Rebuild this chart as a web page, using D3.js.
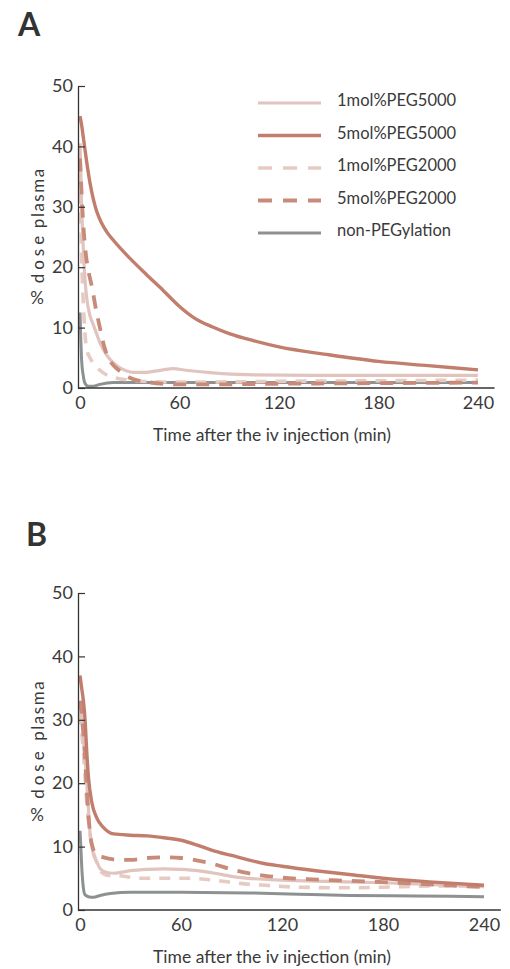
<!DOCTYPE html>
<html>
<head>
<meta charset="utf-8">
<script src="https://cdn.jsdelivr.net/npm/d3@7"></script>
<style>
  body { margin: 0; background: #fff; }
  svg { display: block; font-family: Lato, "Open Sans", sans-serif; }
</style>
</head>
<body>
<svg id="chart" width="510" height="969"></svg>
<script>
// series names, in legend order
const seriesNames = ["1mol%PEG5000", "5mol%PEG5000", "1mol%PEG2000", "5mol%PEG2000", "non-PEGylation"]
const xTicks = [0, 60, 120, 180, 240]
const yTicks = [0, 10, 20, 30, 40, 50]

// panel A : [time (min), % dose]
const a_1mol5000 = [[0,40.5],[1,30],[2,23],[3,18],[4,15],[6,12],[8,10.5],[10,9],[12,7.5],[16,5.5],[20,4.2],[25,3.2],[32,2.6],[40,2.6],[50,3],[56,3.2],[65,2.9],[80,2.5],[100,2.2],[140,2.1],[240,2.1]]
const a_5mol5000 = [[0,45],[1,43.5],[2,41.5],[3,39.5],[4,37.5],[6,34],[8,31.3],[10,29.3],[13,27.3],[16,25.9],[20,24.5],[30,21.5],[40,18.8],[50,16.2],[60,13.5],[70,11.4],[80,10.1],[90,9],[105,7.8],[120,6.8],[150,5.5],[180,4.4],[210,3.7],[240,3]]
const a_1mol2000 = [[0,39],[0.5,30],[1,22],[2,14],[3,9],[4,6.5],[6,5],[9,3.8],[14,2.5],[20,1.8],[30,1.3],[50,1],[80,1],[120,1.1],[180,1.2],[240,1.3]]
const a_5mol2000 = [[0,38],[1,32],[2,27],[3,23.5],[5,19.5],[7,17],[10,12.5],[12,10],[14,7.5],[17,5],[20,3.8],[25,2.6],[30,1.7],[40,1],[60,0.6],[80,0.6],[120,0.7],[180,0.8],[240,0.9]]
const a_nonPEG = [[0,12.5],[0.5,8],[1,4.5],[2,2],[3,0.8],[5,0.3],[8,0.3],[12,0.6],[20,0.9],[40,0.9],[60,0.9],[120,0.9],[180,0.9],[240,0.9]]

// panel B
const b_1mol5000 = [[0,33],[1,30],[2,27],[3,24],[4,20],[5,16],[6,12],[7,10],[8,8.8],[10,7.6],[12,6.5],[15,6],[20,5.8],[30,6.2],[40,6.4],[50,6.5],[60,6.4],[70,6.2],[80,5.8],[90,5.3],[100,5],[120,4.7],[150,4.5],[180,4.3],[210,4],[240,3.7]]
const b_5mol5000 = [[0,37],[1,35],[2,33],[3,30],[4,25],[5,21],[7,17],[10,14.5],[14,13],[20,12],[30,11.8],[40,11.7],[50,11.4],[60,11],[70,10.2],[80,9.3],[90,8.6],[100,7.9],[110,7.3],[120,6.9],[140,6.2],[160,5.6],[180,5],[210,4.4],[240,3.9]]
const b_1mol2000 = [[0,31],[1,28],[2,25],[3,21],[4,17],[6,12],[8,9],[10,7.5],[12,6.2],[16,5.5],[24,5.4],[35,5],[50,5],[65,5],[80,4.7],[95,4.2],[110,3.9],[130,3.6],[160,3.5],[180,3.6],[210,3.8],[240,3.8]]
const b_5mol2000 = [[0,33],[1,31],[2,28],[3,24],[4,19],[5,15],[6,12],[8,9.5],[10,8.7],[14,8.3],[20,8],[30,7.9],[40,8.2],[50,8.3],[60,8.2],[70,7.8],[80,7.2],[90,6.4],[100,5.8],[110,5.4],[120,5.1],[150,4.7],[180,4.4],[210,4],[240,3.6]]
const b_nonPEG = [[0,12.5],[0.5,10],[1,7],[2,3.5],[3,2.4],[5,2.1],[8,2],[12,2.3],[18,2.6],[30,2.8],[60,2.8],[100,2.7],[130,2.5],[160,2.3],[200,2.2],[240,2.1]]

// line styles per series
const styles = {
  "1mol%PEG5000": {color: "#e2c4bf", width: 3.2, dash: null},
  "5mol%PEG5000": {color: "#c27e6c", width: 3.4, dash: null},
  "1mol%PEG2000": {color: "#e6cbc3", width: 3.6, dash: "11,9"},
  "5mol%PEG2000": {color: "#c98b79", width: 3.8, dash: "13,10"},
  "non-PEGylation": {color: "#8d9191", width: 3, dash: null}
}
const drawOrder = ["non-PEGylation", "1mol%PEG2000", "1mol%PEG5000", "5mol%PEG2000", "5mol%PEG5000"]

const svg = d3.select("#chart")
const textColor = "#3a3a3a"

function drawPanel(letter, data, box, withLegend) {
  const x = d3.scaleLinear().domain([0, 240]).range([box.x0, box.x1])
  const y = d3.scaleLinear().domain([0, 50]).range([box.y0, box.y1])
  const g = svg.append("g")

  // panel letter
  g.append("text")
    .attr("x", box.lx).attr("y", box.ly)
    .attr("font-size", 32).attr("font-weight", "bold")
    .attr("fill", "#333")
    .text(letter)

  // curves
  const line = d3.line()
    .x(d => x(d[0]))
    .y(d => y(d[1]))
    .curve(d3.curveMonotoneX)

  drawOrder.forEach(name => {
    const s = styles[name]
    g.append("path")
      .datum(data[name])
      .attr("fill", "none")
      .attr("stroke", s.color)
      .attr("stroke-width", s.width)
      .attr("stroke-dasharray", s.dash)
      .attr("d", line)
  })

  // x axis
  const xAxis = g.append("g")
    .attr("transform", `translate(0,${y(0)})`)
    .call(d3.axisBottom(x).tickValues(xTicks).tickSize(0).tickPadding(8))
  xAxis.select(".domain").attr("d", `M${x(0) - 2},0H${x(250)}`)
    .attr("stroke", "#333").attr("stroke-width", 1.3)
  xAxis.selectAll("text").attr("font-size", 18).attr("fill", textColor)
    .attr("font-family", "Lato, sans-serif")

  // y axis, ticks pointing inward
  const yAxis = g.append("g")
    .attr("transform", `translate(${x(0) - 2},0)`)
    .call(d3.axisLeft(y).tickValues(yTicks).tickSize(-7).tickSizeOuter(0).tickPadding(5))
  yAxis.select(".domain").attr("stroke", "#333").attr("stroke-width", 1.3)
  yAxis.selectAll(".tick line").attr("stroke", "#333").attr("stroke-width", 1.2)
  yAxis.selectAll("text").attr("font-size", 18).attr("fill", textColor)
    .attr("font-family", "Lato, sans-serif")

  // x title
  g.append("text")
    .attr("x", 272).attr("y", y(0) + 53)
    .attr("text-anchor", "middle")
    .attr("font-size", 17.5).attr("fill", textColor)
    .text("Time after the iv injection (min)")

  // garbled y title as in the figure
  const lx = 37
  g.append("text")
    .attr("transform", `translate(${lx},${y(31.5)}) rotate(-90)`)
    .attr("text-anchor", "middle").attr("dominant-baseline", "central")
    .attr("font-size", 17).attr("letter-spacing", 1.5).attr("fill", textColor)
    .text("plasma")
  g.append("text")
    .attr("transform", `translate(${lx},${y(21.6)}) rotate(-90)`)
    .attr("text-anchor", "middle").attr("dominant-baseline", "central")
    .attr("font-size", 17).attr("letter-spacing", 4).attr("fill", textColor)
    .text("dose")
  g.append("text")
    .attr("x", lx).attr("y", y(15))
    .attr("text-anchor", "middle").attr("dominant-baseline", "central")
    .attr("font-size", 17).attr("fill", textColor)
    .text("%")

  if (withLegend) {
    const ly = d3.scalePoint().domain(seriesNames).range([103, 233])
    const leg = g.append("g")
    seriesNames.forEach(name => {
      const s = styles[name]
      leg.append("line")
        .attr("x1", 258).attr("x2", 321)
        .attr("y1", ly(name)).attr("y2", ly(name))
        .attr("stroke", s.color).attr("stroke-width", s.width)
        .attr("stroke-dasharray", s.dash ? "14,11" : null)
      leg.append("text")
        .attr("x", 337).attr("y", ly(name) - 3)
        .attr("dominant-baseline", "central")
        .attr("font-size", 16.5).attr("fill", textColor)
        .text(name)
    })
  }
}

drawPanel("A", {
  "1mol%PEG5000": a_1mol5000, "5mol%PEG5000": a_5mol5000,
  "1mol%PEG2000": a_1mol2000, "5mol%PEG2000": a_5mol2000,
  "non-PEGylation": a_nonPEG
}, {x0: 80, x1: 478, y0: 388, y1: 86, lx: 18, ly: 36}, true)

drawPanel("B", {
  "1mol%PEG5000": b_1mol5000, "5mol%PEG5000": b_5mol5000,
  "1mol%PEG2000": b_1mol2000, "5mol%PEG2000": b_5mol2000,
  "non-PEGylation": b_nonPEG
}, {x0: 80, x1: 484, y0: 910, y1: 593, lx: 26, ly: 546}, false)
</script>
</body>
</html>
